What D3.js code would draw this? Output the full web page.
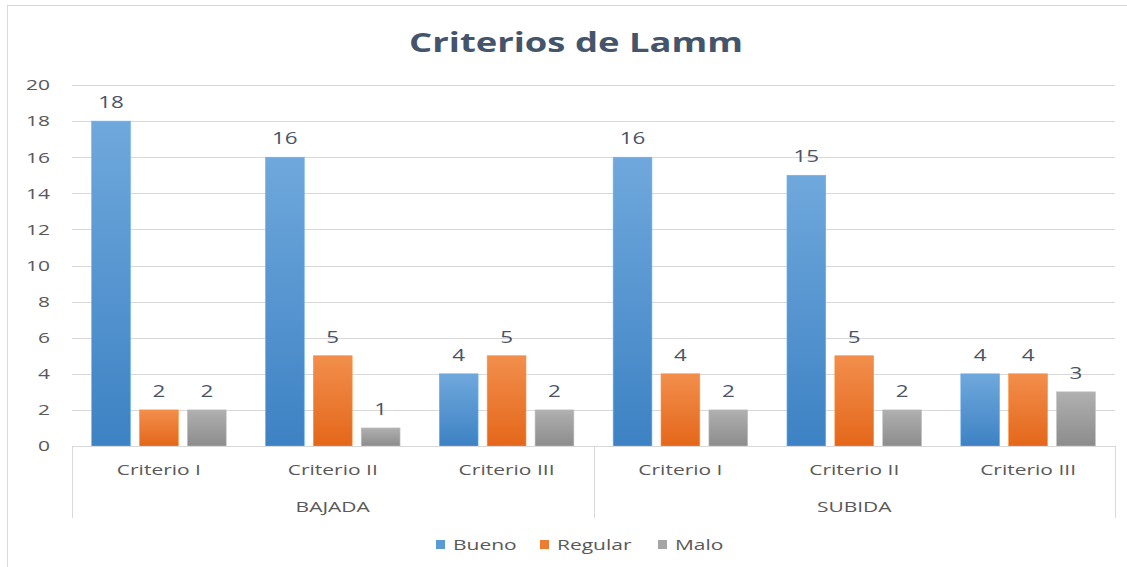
<!DOCTYPE html>
<html>
<head>
<meta charset="utf-8">
<script src="https://cdn.jsdelivr.net/npm/d3@7"></script>
<style>
  body { margin: 0; background: #fff; }
  text { font-family: "Open Sans", "DejaVu Sans", sans-serif; }
</style>
</head>
<body>
<div id="vis"></div>
<script>
// chart data
const GROUPS = ['BAJADA', 'SUBIDA'];
const CRITERIA = ['Criterio I', 'Criterio II', 'Criterio III'];
const SERIES = ['Bueno', 'Regular', 'Malo'];
const BUENO = [18, 16, 4, 16, 15, 4];
const REGULAR = [2, 5, 5, 4, 5, 4];
const MALO = [2, 1, 2, 2, 2, 3];
const Y_TICKS = [0, 2, 4, 6, 8, 10, 12, 14, 16, 18, 20];

const FRAME_WIDTH = 1127;
const FRAME_HEIGHT = 567;
const MARGINS = {left: 72, right: 12, top: 85, bottom: 121};
const VIS_WIDTH = FRAME_WIDTH - MARGINS.left - MARGINS.right;
const VIS_HEIGHT = FRAME_HEIGHT - MARGINS.top - MARGINS.bottom;
const SX = 1.4; // the picture's text looks stretched sideways
const TEXT_COLOR = '#595959';
const LABEL_COLOR = '#4a5466';

const FRAME = d3.select('#vis')
    .append('svg')
        .attr('width', FRAME_WIDTH)
        .attr('height', FRAME_HEIGHT);

// stretch text around its own anchor point
function stretch(sel) {
    sel.each(function() {
        const t = d3.select(this);
        const x = +t.attr('x') || 0;
        const y = +t.attr('y') || 0;
        t.attr('transform', 'translate(' + x + ',' + y + ') scale(' + SX + ',1) translate(' + (-x) + ',' + (-y) + ')');
    });
}

// outer border
FRAME.append('rect')
    .attr('x', 7.5).attr('y', 5.5)
    .attr('width', FRAME_WIDTH).attr('height', FRAME_HEIGHT)
    .attr('fill', 'none')
    .attr('stroke', '#d9d9d9');

// build rows
const rows = [];
GROUPS.forEach((g, gi) => {
    CRITERIA.forEach((c, ci) => {
        const i = gi * CRITERIA.length + ci;
        rows.push({key: g + '|' + c, group: g, crit: c,
                   values: [BUENO[i], REGULAR[i], MALO[i]]});
    });
});

const X0 = d3.scaleBand()
    .domain(rows.map(d => d.key))
    .range([0, VIS_WIDTH]);

const X1 = d3.scaleBand()
    .domain(SERIES)
    .range([0, X0.bandwidth()])
    .paddingInner(0.19)
    .paddingOuter(0.41);

const Y_SCALE = d3.scaleLinear()
    .domain([0, 20])
    .range([VIS_HEIGHT, 0]);

const COLOR = d3.scaleOrdinal()
    .domain(SERIES)
    .range(['#5b9bd5', '#ed7d31', '#a5a5a5']);

// gradients
const defs = FRAME.append('defs');
const GRADS = [['#6fa8dc', '#3d82c4'], ['#f28e4c', '#e4671a'], ['#b0b0b0', '#8c8c8c']];
SERIES.forEach((s, i) => {
    const g = defs.append('linearGradient')
        .attr('id', 'grad' + i)
        .attr('x1', 0).attr('y1', 0).attr('x2', 0).attr('y2', 1);
    g.append('stop').attr('offset', '0%').attr('stop-color', GRADS[i][0]);
    g.append('stop').attr('offset', '100%').attr('stop-color', GRADS[i][1]);
});

const PLOT = FRAME.append('g')
    .attr('transform', 'translate(' + MARGINS.left + ',' + MARGINS.top + ')');

// gridlines
PLOT.append('g')
    .selectAll('line')
    .data(Y_TICKS.slice(1))
    .enter()
    .append('line')
        .attr('x1', 0).attr('x2', VIS_WIDTH)
        .attr('y1', d => Math.round(Y_SCALE(d)) + 0.5)
        .attr('y2', d => Math.round(Y_SCALE(d)) + 0.5)
        .attr('stroke', '#d9d9d9');

// y axis labels
const yAxis = PLOT.append('g')
    .call(d3.axisLeft(Y_SCALE).tickValues(Y_TICKS).tickSize(0).tickPadding(22));
yAxis.select('.domain').remove();
yAxis.selectAll('text')
    .attr('font-size', '15px')
    .attr('fill', TEXT_COLOR)
    .call(stretch);

// bars
const cats = PLOT.selectAll('.cat')
    .data(rows)
    .enter()
    .append('g')
        .attr('class', 'cat')
        .attr('transform', d => 'translate(' + X0(d.key) + ',0)');

cats.selectAll('rect')
    .data(d => d.values.map((v, i) => ({series: SERIES[i], idx: i, value: v})))
    .enter()
    .append('rect')
        .attr('x', d => X1(d.series))
        .attr('y', d => Y_SCALE(d.value))
        .attr('width', X1.bandwidth())
        .attr('height', d => VIS_HEIGHT - Y_SCALE(d.value))
        .attr('fill', d => 'url(#grad' + d.idx + ')')
        .attr('stroke', d => d3.color(COLOR(d.series)).brighter(0.4))
        .attr('stroke-width', 0.6);

// data labels
cats.selectAll('.lbl')
    .data(d => d.values.map((v, i) => ({series: SERIES[i], value: v})))
    .enter()
    .append('text')
        .attr('class', 'lbl')
        .attr('x', d => X1(d.series) + X1.bandwidth() / 2)
        .attr('y', d => Y_SCALE(d.value) - 13)
        .attr('text-anchor', 'middle')
        .attr('font-size', '16px')
        .attr('fill', LABEL_COLOR)
        .text(d => d.value)
        .call(stretch);

// baseline
PLOT.append('line')
    .attr('x1', 0).attr('x2', VIS_WIDTH)
    .attr('y1', VIS_HEIGHT + 0.5).attr('y2', VIS_HEIGHT + 0.5)
    .attr('stroke', '#d9d9d9');

// group separators
const SEP_X = [0, X0(rows[CRITERIA.length].key), VIS_WIDTH];
PLOT.selectAll('.sep')
    .data(SEP_X)
    .enter()
    .append('line')
        .attr('class', 'sep')
        .attr('x1', d => Math.round(d) + 0.5).attr('x2', d => Math.round(d) + 0.5)
        .attr('y1', VIS_HEIGHT).attr('y2', VIS_HEIGHT + 72)
        .attr('stroke', '#d9d9d9');

// category labels
PLOT.selectAll('.crit')
    .data(rows)
    .enter()
    .append('text')
        .attr('class', 'crit')
        .attr('x', d => X0(d.key) + X0.bandwidth() / 2)
        .attr('y', VIS_HEIGHT + 29)
        .attr('text-anchor', 'middle')
        .attr('font-size', '15px')
        .attr('fill', TEXT_COLOR)
        .text(d => d.crit)
        .call(stretch);

// group labels
PLOT.selectAll('.grp')
    .data(GROUPS)
    .enter()
    .append('text')
        .attr('class', 'grp')
        .attr('x', (d, i) => (SEP_X[i] + SEP_X[i + 1]) / 2)
        .attr('y', VIS_HEIGHT + 66)
        .attr('text-anchor', 'middle')
        .attr('font-size', '15px')
        .attr('fill', TEXT_COLOR)
        .text(d => d)
        .call(stretch);

// title
FRAME.append('text')
    .attr('x', 576)
    .attr('y', 52)
    .attr('text-anchor', 'middle')
    .attr('font-size', '26px')
    .attr('font-weight', 'bold')
    .attr('fill', '#44546a')
    .text('Criterios de Lamm')
    .call(stretch);

// legend
const LEGEND_X = [436, 540, 658];
const legend = FRAME.selectAll('.leg')
    .data(SERIES)
    .enter()
    .append('g')
        .attr('class', 'leg')
        .attr('transform', (d, i) => 'translate(' + LEGEND_X[i] + ',540)');
legend.append('rect')
    .attr('width', 9).attr('height', 9)
    .attr('fill', d => COLOR(d));
legend.append('text')
    .attr('x', 17).attr('y', 10)
    .attr('font-size', '15px')
    .attr('fill', TEXT_COLOR)
    .text(d => d)
    .call(stretch);
</script>
</body>
</html>
